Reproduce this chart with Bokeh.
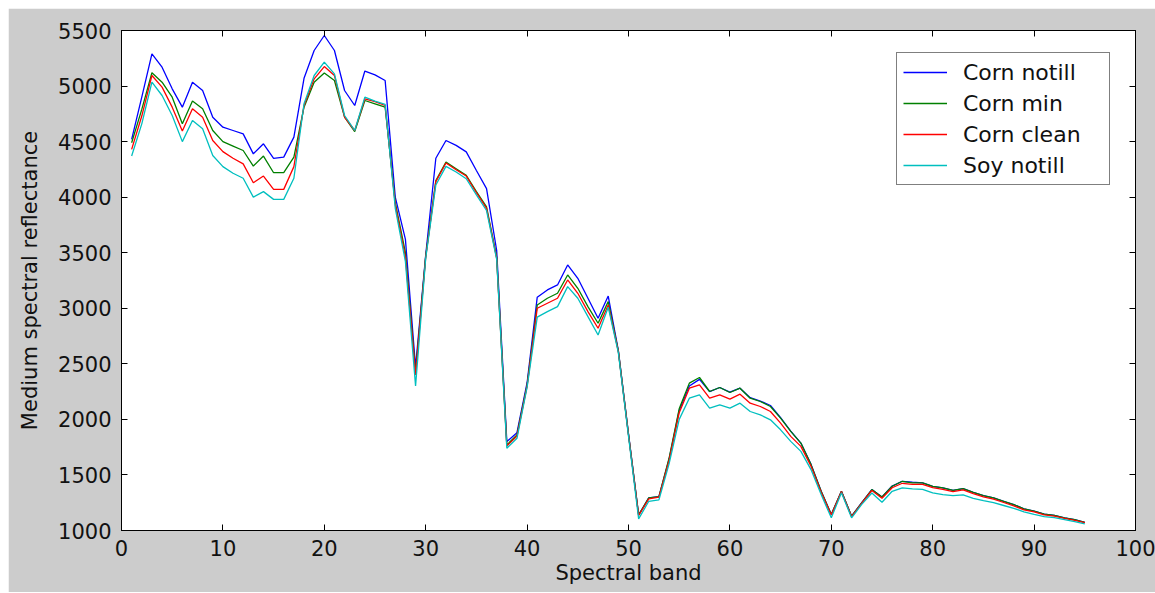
from bokeh.plotting import figure
from bokeh.models import LinearAxis, FixedTicker, Legend, LegendItem
from bokeh.embed import file_html
from bokeh.resources import INLINE

bands = list(range(1, 96))

corn_notill = [4520, 4900, 5290, 5170, 4975, 4810, 5035, 4960, 4720, 4630,
               4600, 4570, 4390, 4480, 4350, 4360, 4540, 5070, 5320, 5455,
               5320, 4960, 4825, 5135, 5100, 5050, 4000, 3620, 2470, 3480,
               4350, 4510, 4466, 4408, 4240, 4077, 3520, 1800, 1880, 2330,
               3100, 3165, 3210, 3390, 3270, 3090, 2910, 3110, 2620, 1870,
               1140, 1293, 1305, 1640, 2080, 2300, 2360, 2250, 2287, 2245,
               2281, 2195, 2165, 2125, 2015, 1895, 1787, 1595, 1353, 1144,
               1353, 1129, 1250, 1368, 1302, 1400, 1443, 1435, 1428, 1398,
               1383, 1362, 1377, 1344, 1314, 1293, 1263, 1233, 1195, 1175,
               1147, 1136, 1114, 1097, 1074]

corn_min = [4490, 4790, 5120, 5035, 4900, 4660, 4865, 4795, 4600, 4500,
            4460, 4420, 4280, 4370, 4220, 4220, 4360, 4810, 5035, 5117,
            5050, 4720, 4590, 4870, 4840, 4810, 3950, 3500, 2420, 3470,
            4150, 4315, 4256, 4196, 4050, 3912, 3460, 1770, 1860, 2310,
            3030, 3090, 3135, 3300, 3180, 3015, 2865, 3060, 2615, 1865,
            1140, 1293, 1305, 1650, 2095, 2326, 2377, 2251, 2287, 2242,
            2281, 2191, 2161, 2116, 2011, 1892, 1787, 1593, 1353, 1144,
            1353, 1129, 1248, 1368, 1302, 1398, 1443, 1428, 1428, 1398,
            1383, 1362, 1377, 1344, 1314, 1293, 1263, 1233, 1195, 1175,
            1147, 1136, 1114, 1097, 1074]

corn_clean = [4430, 4730, 5095, 4990, 4810, 4595, 4795, 4720, 4510, 4410,
              4350, 4300, 4130, 4190, 4070, 4070, 4275, 4825, 5065, 5175,
              5095, 4720, 4600, 4885, 4860, 4825, 3930, 3460, 2400, 3460,
              4140, 4307, 4247, 4190, 4040, 3900, 3450, 1760, 1850, 2300,
              3000, 3045, 3090, 3255, 3135, 2970, 2820, 3030, 2610, 1860,
              1135, 1285, 1300, 1630, 2060, 2281, 2311, 2191, 2221, 2182,
              2227, 2146, 2116, 2071, 1966, 1847, 1757, 1578, 1345, 1140,
              1350, 1125, 1245, 1360, 1290, 1385, 1425, 1415, 1415, 1385,
              1370, 1350, 1365, 1332, 1303, 1282, 1252, 1222, 1186, 1168,
              1140, 1130, 1110, 1092, 1070]

soy_notill = [4370, 4660, 5035, 4915, 4735, 4500, 4690, 4615, 4375, 4275,
              4215, 4170, 4000, 4050, 3980, 3980, 4170, 4840, 5095, 5215,
              5110, 4735, 4600, 4900, 4865, 4835, 3900, 3420, 2300, 3450,
              4110, 4277, 4226, 4166, 4020, 3880, 3440, 1740, 1830, 2290,
              2920, 2970, 3015, 3195, 3090, 2925, 2760, 3010, 2600, 1850,
              1105, 1263, 1275, 1600, 2000, 2191, 2221, 2101, 2131, 2101,
              2146, 2071, 2041, 1996, 1906, 1802, 1712, 1548, 1323, 1114,
              1340, 1114, 1235, 1338, 1254, 1353, 1383, 1374, 1370, 1338,
              1323, 1314, 1320, 1290, 1268, 1250, 1225, 1200, 1168, 1145,
              1125, 1115, 1098, 1080, 1060]

series_names = ["Corn notill", "Corn min", "Corn clean", "Soy notill"]
series_values = [corn_notill, corn_min, corn_clean, soy_notill]
series_colors = ["#0000ff", "#008000", "#ff0000", "#00bfbf"]

x_ticks = [0, 10, 20, 30, 40, 50, 60, 70, 80, 90, 100]
y_ticks = [1000, 1500, 2000, 2500, 3000, 3500, 4000, 4500, 5000, 5500]

FONT = "DejaVu Sans"

p = figure(width=1147, height=584, x_range=(0, 100), y_range=(1000, 5500),
           output_backend="svg", toolbar_location=None,
           background_fill_color="white", border_fill_color="#cccccc",
           min_border_left=113, min_border_right=20, min_border_top=22,
           min_border_bottom=62)
p.margin = (8, 0, 0, 8)

p.xgrid.visible = False
p.ygrid.visible = False
p.outline_line_color = "black"
p.outline_line_width = 1

def style_axis(ax, ticks, show_labels):
    ax.ticker = FixedTicker(ticks=ticks)
    ax.major_tick_in = 6
    ax.major_tick_out = 0
    ax.minor_tick_line_color = None
    ax.axis_line_color = "black"
    ax.major_tick_line_color = "black"
    ax.major_label_text_font = FONT
    ax.major_label_text_font_size = "21px"
    ax.major_label_text_color = "#111111" if show_labels else None
    ax.axis_label_text_font = FONT
    ax.axis_label_text_font_size = "21px"
    ax.axis_label_text_font_style = "normal"
    ax.axis_label_text_color = "#111111"

style_axis(p.xaxis[0], x_ticks, True)
style_axis(p.yaxis[0], y_ticks, True)
p.xaxis.axis_label = "Spectral band"
p.yaxis.axis_label = "Medium spectral reflectance"
p.xaxis.major_label_standoff = 9
p.xaxis.axis_label_standoff = 2
p.yaxis.major_label_standoff = 10
p.yaxis.axis_label_standoff = 13

top_ax = LinearAxis(major_label_standoff=0)
style_axis(top_ax, x_ticks, False)
top_ax.major_label_text_font_size = "1px"
p.add_layout(top_ax, "above")
right_ax = LinearAxis(major_label_standoff=0)
style_axis(right_ax, y_ticks, False)
right_ax.major_label_text_font_size = "1px"
p.add_layout(right_ax, "right")

items = []
for name, vals, col in zip(series_names, series_values, series_colors):
    r = p.line(bands, vals, line_color=col, line_width=1.3)
    items.append(LegendItem(label=name, renderers=[r]))

legend = Legend(items=items, location=(775, 345))
legend.label_text_font = FONT
legend.label_text_font_size = "22px"
legend.label_text_color = "#111111"
legend.glyph_width = 44
legend.glyph_height = 26
legend.label_height = 26
legend.label_width = 140
legend.label_standoff = 16
legend.spacing = 5
legend.padding = 6
legend.margin = 0
legend.border_line_color = "black"
legend.border_line_width = 1
legend.background_fill_color = "white"
legend.background_fill_alpha = 1
p.add_layout(legend, "center")

open("out.html", "w").write(file_html(p, INLINE))
